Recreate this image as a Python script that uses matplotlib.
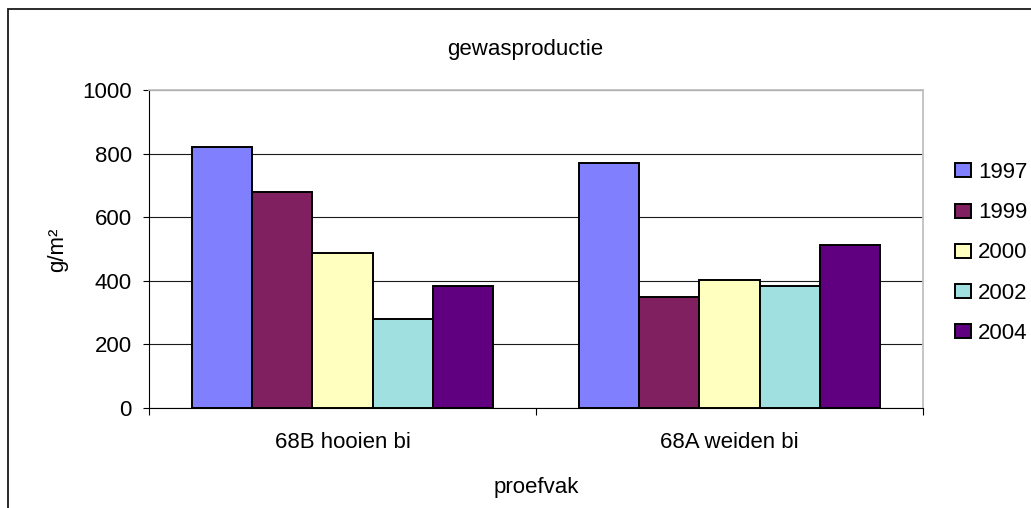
import numpy as np
import matplotlib
matplotlib.use("Agg")
import matplotlib.pyplot as plt
from matplotlib.patches import Rectangle
from matplotlib.ticker import FixedLocator, NullFormatter

# Data
categories = ["68B hooien bi", "68A weiden bi"]
years = ["1997", "1999", "2000", "2002", "2004"]
v1997 = [821, 772]
v1999 = [678, 348]
v2000 = [486, 402]
v2002 = [279, 383]
v2004 = [383, 513]
series = [v1997, v1999, v2000, v2002, v2004]
colors = ["#8080FF", "#802060", "#FFFFC0", "#A0E0E0", "#600080"]
yticks = [0, 200, 400, 600, 800, 1000]

W, H = 1031, 508
plt.rcParams["font.family"] = ["Liberation Sans", "DejaVu Sans"]
FS = 16

fig = plt.figure(figsize=(W / 100, H / 100), dpi=100)
fig.patch.set_facecolor("white")

# chart frame (left and top edges visible)
fig.add_artist(Rectangle((8 / W, -0.1), 1.2, 1 - 9 / H + 0.1,
                         transform=fig.transFigure, fill=False,
                         edgecolor="#1a1a1a", linewidth=1.3))

left, right, top, bottom = 149, 923, 90, 408
ax = fig.add_axes([left / W, 1 - bottom / H, (right - left) / W, (bottom - top) / H])
ax.set_facecolor("white")

x = np.arange(len(categories))
w = 0.1553
for i, (vals, c, yr) in enumerate(zip(series, colors, years)):
    ax.bar(x + (i - 2) * w, vals, width=w, color=c, edgecolor="black",
           linewidth=1.4, label=yr, zorder=3)

ax.set_xlim(-0.5, len(categories) - 0.5)
ax.set_ylim(0, 1000)
ax.set_yticks(yticks)
ax.set_yticklabels([str(t) for t in yticks], fontsize=FS)
ax.yaxis.grid(True, color="#1a1a1a", linewidth=0.8, zorder=0)
ax.set_axisbelow(True)

ax.set_xticks(x)
ax.set_xticklabels(categories, fontsize=FS)
ax.xaxis.set_minor_locator(FixedLocator(np.arange(len(categories) + 1) - 0.5))
ax.xaxis.set_minor_formatter(NullFormatter())
ax.tick_params(axis="x", which="major", length=0, pad=17)
ax.tick_params(axis="x", which="minor", length=5, width=0.8, direction="out")
ax.tick_params(axis="y", length=4.5, width=0.8, direction="out", pad=8)

for s in ("top", "right"):
    ax.spines[s].set_color("#c0c0c0")
    ax.spines[s].set_linewidth(1.3)
for s in ("left", "bottom"):
    ax.spines[s].set_color("black")
    ax.spines[s].set_linewidth(0.8)

fig.text(525 / W, 1 - 55 / H, "gewasproductie", fontsize=FS,
         ha="center", va="baseline")
fig.text(536 / W, 1 - 493 / H, "proefvak", fontsize=FS,
         ha="center", va="baseline")
fig.text(58 / W, 1 - 250 / H, "g/m\u00b2", fontsize=FS, rotation=90,
         ha="center", va="center")

leg = ax.legend(loc="center left", bbox_to_anchor=(955 / W, 1 - 253 / H),
                bbox_transform=fig.transFigure, frameon=False, fontsize=FS,
                borderpad=0, borderaxespad=0, handlelength=0.72,
                handleheight=0.59, handletextpad=0.32, labelspacing=0.86)

fig.savefig("out.png", dpi=100, facecolor="white")
